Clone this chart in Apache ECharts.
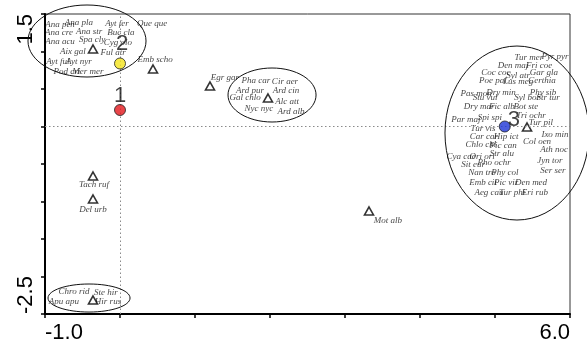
<!DOCTYPE html>
<html><head><meta charset="utf-8">
<script src="https://cdn.jsdelivr.net/npm/echarts@6/dist/echarts.min.js"></script>
<style>html,body{margin:0;padding:0;background:#fff}#c{width:587px;height:342px}</style>
</head><body><div id="c"></div>
<script>
const xTickLabels = ['-1.0', '6.0'];
const yTickLabels = ['-2.5', '1.5'];

const sampleNames = ['1', '2', '3'];
const sampleX = [0, 0, 5.13];
const sampleY = [0.22, 0.84, 0.0];
const sampleColors = ['#e3161b', '#f4e41c', '#1d34d6'];
const sampleLabelX = [0, 0.027, 5.253];
const sampleLabelY = [0.407, 1.1, 0.087];

const triangleX = [-0.36, 0.44, 1.2, 1.973, -0.36, -0.36, 3.32, -0.36, 5.427];
const triangleY = [1.033, 0.767, 0.54, 0.38, -0.66, -0.967, -1.127, -2.313, -0.007];

const speciesNames = [
  'Ana pen','Ana pla','Ayt fer','Que que','Ana cre','Ana str','Buc cla','Ana acu','Spa cly','Cyg olo',
  'Aix gal','Ful atr','Ayt ful','Ayt nyr','Pod cri','Mer mer',
  'Emb scho','Egr gar','Pha car','Cir aer','Ard pur','Ard cin','Gal chlo','Alc att','Nyc nyc','Ard alb',
  'Tach ruf','Del urb','Mot alb','Chro rid','Ste hir','Apu apu','Hir rus',
  'Tur mer','Pyr pyr','Den maj','Fri coe','Coc coc','Syl atr','Gar gla','Poe pal','Lus meg','Certhia',
  'Pas mon','Dry min','Phy sib','Stu vul','Syl bor','Str tur','Dry mar','Fic alb','Bot ste',
  'Par maj','Spi spi','Tri ochr','Tur pil','Tur vis','Ixo min','Car car','Hip ict','Col oen',
  'Chlo chl','Pic can','Ath noc','Cya cae','Ori ori','Str alu','Jyn tor','Sit eur','Pho ochr',
  'Ser ser','Nan tro','Phy col','Emb cit','Pic vir','Den med','Aeg cau','Tur phi','Eri rub'
];
const speciesX = [
  -0.80,-0.547,-0.04,0.427,-0.813,-0.413,0.013,-0.80,-0.373,-0.027,
  -0.627,-0.093,-0.827,-0.547,-0.707,-0.427,
  0.467,1.40,1.813,2.20,1.733,2.213,1.667,2.227,1.853,2.28,
  -0.347,-0.36,3.573,-0.613,-0.187,-0.747,-0.16,
  5.453,5.80,5.24,5.587,5.013,5.307,5.653,4.973,5.307,5.627,
  4.747,5.08,5.64,4.867,5.427,5.707,4.787,5.093,5.413,
  4.613,4.933,5.48,5.613,4.84,5.80,4.853,5.147,5.56,
  4.813,5.107,5.787,4.547,4.827,5.093,5.733,4.707,4.987,
  5.773,4.827,5.133,4.84,5.147,5.48,4.92,5.227,5.533
];
const speciesY = [
  1.353,1.38,1.367,1.367,1.247,1.26,1.247,1.127,1.153,1.113,
  0.993,0.98,0.86,0.86,0.727,0.727,
  0.887,0.647,0.607,0.593,0.473,0.473,0.38,0.327,0.233,0.193,
  -0.78,-1.113,-1.26,-2.207,-2.22,-2.34,-2.34,
  0.913,0.927,0.807,0.807,0.713,0.673,0.713,0.607,0.593,0.607,
  0.433,0.447,0.447,0.38,0.38,0.38,0.26,0.26,0.26,
  0.087,0.113,0.14,0.047,-0.033,-0.113,-0.14,-0.14,-0.207,
  -0.247,-0.26,-0.313,-0.407,-0.407,-0.367,-0.46,-0.513,-0.487,
  -0.593,-0.62,-0.62,-0.753,-0.753,-0.753,-0.887,-0.887,-0.887
];

const ellipseCx = [-0.44, 2.027, 5.293, -0.413];
const ellipseCy = [1.14, 0.42, -0.087, -2.287];
const ellipseRx = [0.787, 0.587, 0.96, 0.547];
const ellipseRy = [0.48, 0.36, 1.16, 0.187];

const chart = echarts.init(document.getElementById('c'), null, {renderer: 'canvas'});
const axisFont = {fontSize: 22, fontFamily: 'Liberation Sans, Arial, sans-serif', color: '#000'};

chart.setOption({
  animation: false,
  backgroundColor: '#fff',
  grid: {left: 45, right: 17, top: 14, bottom: 28, show: true, borderColor: '#333', borderWidth: 1, outerBoundsMode: 'none', containLabel: false},
  xAxis: {
    type: 'value', min: -1, max: 6, interval: 1,
    axisLine: {onZero: false, lineStyle: {color: '#000', width: 2}},
    axisTick: {length: 4, lineStyle: {color: '#000', width: 1.5}},
    splitLine: {show: false},
    axisLabel: Object.assign({
      margin: 8, showMinLabel: true, showMaxLabel: true,
      alignMinLabel: 'left', alignMaxLabel: 'right',
      formatter: v => (v === -1 ? xTickLabels[0] : (v === 6 ? xTickLabels[1] : ''))
    }, axisFont)
  },
  yAxis: {
    type: 'value', min: -2.5, max: 1.5, interval: 0.5,
    axisLine: {onZero: false, lineStyle: {color: '#000', width: 2}},
    axisTick: {length: 4, lineStyle: {color: '#000', width: 1.5}},
    splitLine: {show: false},
    axisLabel: Object.assign({
      rotate: 90, margin: 8, showMinLabel: true, showMaxLabel: true,
      alignMinLabel: 'left', alignMaxLabel: 'right',
      formatter: v => (v === -2.5 ? yTickLabels[0] : (v === 1.5 ? yTickLabels[1] : ''))
    }, axisFont)
  },
  series: [
    {
      type: 'scatter', name: 'species', symbol: 'circle', symbolSize: 1,
      itemStyle: {color: 'rgba(0,0,0,0)'},
      label: {show: true, position: 'inside', formatter: p => p.name,
        fontStyle: 'italic', fontFamily: 'Liberation Serif, Times New Roman, serif', fontSize: 9, color: '#111'},
      data: speciesNames.map((n, i) => ({name: n, value: [speciesX[i], speciesY[i]]})),
      z: 3,
      markLine: {
        silent: true, symbol: ['none', 'none'], label: {show: false},
        lineStyle: {type: [1.5, 2.5], color: '#8a8a8a', width: 1},
        data: [{xAxis: 0}, {yAxis: 0}]
      }
    },
    {
      type: 'scatter', name: 'triangles', symbol: 'triangle', symbolSize: [9, 8],
      itemStyle: {color: '#fff', borderColor: '#000', borderWidth: 1.6},
      data: triangleX.map((x, i) => [x, triangleY[i]]), z: 4
    },
    {
      type: 'scatter', name: 'samples', symbol: 'circle', symbolSize: 11,
      itemStyle: {borderColor: '#222', borderWidth: 1},
      data: sampleX.map((x, i) => ({value: [x, sampleY[i]], itemStyle: {color: sampleColors[i]}})), z: 5
    },
    {
      type: 'scatter', name: 'sampleLabels', symbolSize: 1,
      itemStyle: {color: 'rgba(0,0,0,0)'},
      label: {show: true, position: 'inside', formatter: p => p.name,
        fontFamily: 'Liberation Sans, Arial, sans-serif', fontSize: 22, color: '#111'},
      data: sampleNames.map((n, i) => ({name: n, value: [sampleLabelX[i], sampleLabelY[i]]})), z: 6
    }
  ]
});

const ellipses = ellipseCx.map((cx, i) => {
  const c = chart.convertToPixel({gridIndex: 0}, [cx, ellipseCy[i]]);
  const e = chart.convertToPixel({gridIndex: 0}, [cx + ellipseRx[i], ellipseCy[i] + ellipseRy[i]]);
  return {type: 'ellipse', shape: {cx: c[0], cy: c[1], rx: Math.abs(e[0] - c[0]), ry: Math.abs(c[1] - e[1])},
    style: {fill: 'none', stroke: '#111', lineWidth: 1}, z: 100, silent: true};
});
chart.setOption({graphic: ellipses});
</script></body></html>
